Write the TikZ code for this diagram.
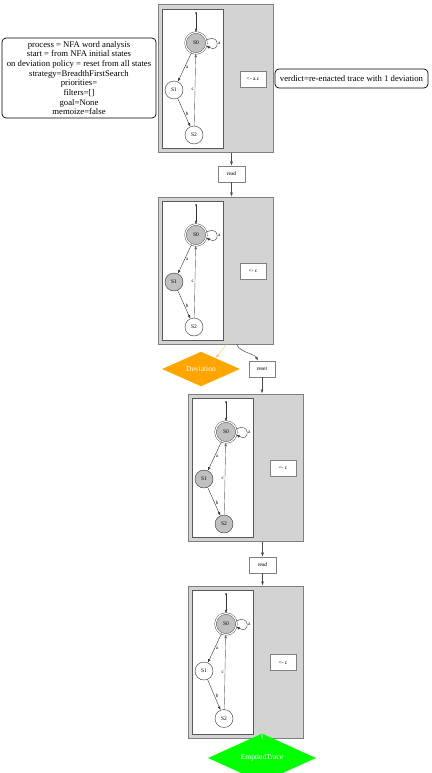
\documentclass[tikz,border=0pt]{standalone}
\usepackage{fontspec}
\setmainfont{Liberation Serif}
\usetikzlibrary{arrows.meta,shapes.geometric,calc}
\definecolor{clgray}{RGB}{211,211,211}
\definecolor{stgray}{RGB}{192,192,192}
\definecolor{bordergray}{RGB}{128,128,128}
\definecolor{devorange}{RGB}{255,165,0}
\definecolor{devline}{RGB}{255,200,110}
\definecolor{okgreen}{RGB}{0,255,0}
\definecolor{okline}{RGB}{120,255,120}
\newcommand\runbox[7]{%
\begin{scope}[shift={(#2,#3)}]
\node[cluster, minimum width=115pt, minimum height={147pt+#4pt}] (#1o) at (215.5,{78.5+#4/2}) {};
\node[innerbox, minimum width=61pt, minimum height={139pt+#4pt}] (#1i) at (192.5,{78.5+#4/2}) {};
\coordinate (#1d) at (196,13);
\fill[black] (#1d) circle[radius=0.8pt];
\node[state, init] (#1a) at (196,43) {S0};
\node[state, fill=#5] (#1b) at (174,90) {S1};
\node[state, fill=#6] (#1c) at (194,{135+#4/2}) {S2};
\node[lbox] (#1l) at (253,{79+#4/2}) {#7};
\draw[trans] (#1d) -- (#1a);
\draw[trans] (#1a.15) .. controls +(14,-8) and +(14,8) .. node[elabel, right] (#1la) {a} (#1a.-15);
\draw[trans] (#1a) -- node[elabel, right, pos=0.5] (#1ab) {a} (#1b);
\draw[trans] (#1b) -- node[elabel, right, pos=0.55] (#1bc) {b} (#1c);
\draw[trans, draw=black!60] (#1c) -- node[elabel, left, pos=0.5] (#1ca) {c} (#1a);
\end{scope}}
\begin{document}
\begin{tikzpicture}[x=1pt,y=-1pt,
  cluster/.style={rectangle, draw=bordergray, fill=clgray, line width=1pt, inner sep=0pt},
  innerbox/.style={rectangle, draw=black!65, fill=white, line width=0.45pt, inner sep=0pt},
  state/.style={circle, draw=black!80, line width=0.4pt, fill=white, minimum size=18pt, inner sep=0pt, font=\fontsize{5.5}{6}\selectfont},
  init/.style={fill=stgray, double, double distance=1.2pt, minimum size=21pt},
  trans/.style={-{Latex[length=3.5pt,width=2.6pt]}, line width=0.4pt, draw=black!80},
  elabel/.style={font=\fontsize{5}{6}\selectfont, inner sep=1pt},
  lbox/.style={rectangle, draw=bordergray, fill=white, line width=0.7pt, minimum width=26pt, minimum height=16pt, inner sep=0pt, font=\fontsize{5.5}{6}\selectfont},
  flow/.style={-{Latex[length=4pt,width=3pt]}, line width=0.5pt, draw=black!70},
  infobox/.style={rectangle, rounded corners=4pt, draw=black, line width=0.7pt, fill=white, align=center, inner sep=1pt, font=\fontsize{8.7}{9.7}\selectfont},
  decision/.style={diamond, inner sep=0pt, text=white}
]
\useasboundingbox (0,0) rectangle (431,773);

\node[infobox, minimum width=154pt, minimum height=80pt] (info) at (79,78) {process = NFA word analysis\\start = from NFA initial states\\on deviation policy = reset from all states\\strategy=BreadthFirstSearch\\priorities=\\filters=[]\\goal=None\\memoize=false};
\node[infobox, minimum width=153pt, minimum height=19pt] (verdict) at (351.5,78.5) {verdict=re-enacted trace with 1 deviation};

\runbox{c1}{0}{0}{0}{white}{white}{<- a.c}
\runbox{c2}{0}{192}{0}{stgray}{white}{<- c}
\runbox{c3}{30}{389}{0}{stgray}{stgray}{<- c}
\runbox{c4}{30}{581}{5}{white}{white}{<- c}

\node[lbox, minimum width=27pt] (read1) at (231.5,174) {read};
\node[lbox, minimum width=26pt] (reset) at (262,369) {reset};
\node[lbox, minimum width=27pt] (read2) at (262.5,565) {read};
\node[decision, fill=devorange, minimum width=78pt, minimum height=26pt, font=\fontsize{7.5}{8}\selectfont] (dev) at (201,369) {Deviation};
\node[decision, fill=okgreen, minimum width=108pt, minimum height=24pt, font=\fontsize{7.5}{8}\selectfont] (empt) at (262,758) {EmptiedTrace};

\draw[flow] (read1 |- c1o.south) -- (read1);
\draw[flow] (read1) -- (read1 |- c2o.north);
\draw[-{Latex[length=4pt,width=3pt]}, line width=0.5pt, draw=devline] ($(c2o.south)+(11,0)$) -- (dev.37);
\draw[flow] ($(c2o.south)+(21,0)$) .. controls +(4,8) and +(-4,-7) .. (reset.115);
\draw[flow] (reset) -- (reset |- c3o.north);
\draw[flow] (read2 |- c3o.south) -- (read2);
\draw[flow] (read2) -- (read2 |- c4o.north);
\draw[-{Latex[length=4pt,width=3pt]}, line width=0.5pt, draw=okline] (empt |- c4o.south) -- (empt.north);
\end{tikzpicture}
\end{document}
